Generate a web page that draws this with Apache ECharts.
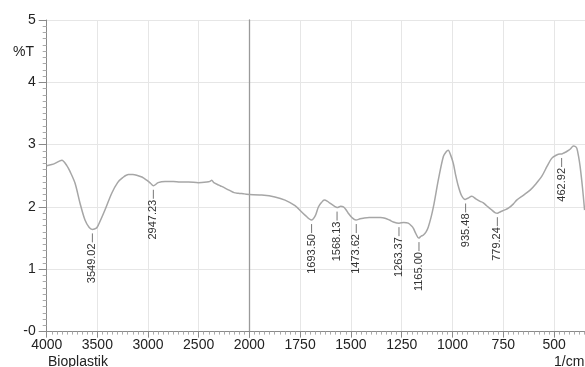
<!DOCTYPE html>
<html>
<head>
<meta charset="utf-8">
<script src="https://cdn.jsdelivr.net/npm/echarts@6/dist/echarts.min.js"></script>
<style>html,body{margin:0;padding:0;background:#fff;}#c{width:585px;height:367px;}</style>
</head>
<body>
<div id="c"></div>
<script>
// Spectrum (wavenumber 1/cm, %T)
const wavenumbers = [4000,3950,3918,3870,3850,3800,3770,3720,3671,3622,3580,3549,3510,3490,3425,3358,3300,3250,3194,3150,3112,3060,3013,2975,2947,2900,2832,2750,2684,2600,2503,2420,2388,2371,2350,2300,2273,2200,2150,2109,2050,2000,
1939,1874,1824,1775,1726,1694,1675,1660,1645,1631,1615,1603,1580,1568,1550,1537,1525,1513,1495,1475,1455,1439,1410,1381,1355,1332,1310,1291,1263,1240,1218,1200,1193,1180,1166,1155,1143,1130,1119,1105,1094,1080,1070,1045,1030,1021,1010,996,985,971,955,938,925,905,885,864,850,832,810,791,779,766,745,725,700,684,650,618,590,561,535,512,490,471,463,450,438,420,405,395,388,380,372,360,350];
const transmittance = [2.66,2.68,2.70,2.74,2.75,2.66,2.57,2.38,2.06,1.79,1.67,1.64,1.66,1.71,1.95,2.22,2.39,2.47,2.52,2.52,2.51,2.48,2.43,2.38,2.34,2.39,2.41,2.41,2.40,2.40,2.39,2.40,2.41,2.43,2.39,2.35,2.33,2.27,2.23,2.22,2.21,2.20,
2.19,2.16,2.11,2.02,1.87,1.79,1.86,2.00,2.07,2.11,2.09,2.06,2.01,1.99,2.01,2.00,1.96,1.90,1.83,1.79,1.81,1.82,1.83,1.83,1.83,1.82,1.79,1.76,1.74,1.75,1.74,1.69,1.66,1.57,1.50,1.53,1.55,1.60,1.68,1.84,2.00,2.25,2.43,2.81,2.89,2.91,2.84,2.70,2.52,2.33,2.18,2.12,2.14,2.17,2.13,2.09,2.07,2.02,1.96,1.91,1.90,1.92,1.95,1.98,2.05,2.11,2.19,2.27,2.37,2.49,2.65,2.78,2.83,2.85,2.85,2.87,2.89,2.93,2.98,2.97,2.94,2.82,2.65,2.30,1.95];

// Peak annotations
const peakWn = [3549.02,2947.23,1693.50,1568.13,1473.62,1263.37,1165.00,935.48,779.24,462.92];
const peakT = [1.64,2.34,1.79,1.99,1.79,1.74,1.50,2.12,1.90,2.85];
const peakLabels = ['3549.02','2947.23','1693.50','1568.13','1473.62','1263.37','1165.00','935.48','779.24','462.92'];

// Axis ticks
const yTicks = [0,1,2,3,4,5];
const yTickLabels = ['-0','1','2','3','4','5'];

const FONT = 'Liberation Sans, Arial, sans-serif';
const pts = wavenumbers.map((w,i)=>[w, transmittance[i]]);
const leftData = pts.filter(p=>p[0]>=2000);
const rightData = pts.filter(p=>p[0]<=2000);
const peaks = peakWn.map((w,i)=>({w, t:peakT[i], label:peakLabels[i]}));
const leftPeaks = peaks.filter(p=>p.w>2000);
const rightPeaks = peaks.filter(p=>p.w<=2000);

function peakRenderer(list){
  return function(params, api){
    const pk = list[params.dataIndex];
    const p = api.coord([pk.w, pk.t]);
    return {type:'group', children:[
      {type:'line', shape:{x1:p[0], y1:p[1]+4, x2:p[0], y2:p[1]+13}, style:{stroke:'#777', lineWidth:1}},
      {type:'text', x:p[0], y:p[1]+14, rotation:Math.PI/2,
       style:{text:pk.label, textAlign:'right', textVerticalAlign:'middle', align:'right', verticalAlign:'middle', font:'11px '+FONT, fill:'#333'}}
    ]};
  };
}

const lineColor = '#a6a6a6';
const gridColor = '#e6e6e6';
const axisColor = '#8a8a8a';

const chart = echarts.init(document.getElementById('c'), null, {renderer:'canvas'});
chart.setOption({
  animation:false,
  backgroundColor:'#fff',
  grid:[
    {left:46.7, top:20, width:202.6, height:311.6, containLabel:false, outerBoundsMode:'none'},
    {left:249.3, top:20, width:355.6, height:311.6, containLabel:false, outerBoundsMode:'none'}
  ],
  xAxis:[
    {gridIndex:0, type:'value', min:2000, max:4000, interval:500, inverse:true,
     axisLine:{show:true, onZero:false, lineStyle:{color:axisColor}},
     axisTick:{show:true, length:6, lineStyle:{color:axisColor}},
     minorTick:{show:true, splitNumber:10, length:3, lineStyle:{color:'#aaa'}},
     axisLabel:{margin:7, fontSize:14, fontFamily:FONT, color:'#222', formatter:v=> v===2000?'':String(v)},
     splitLine:{show:true, lineStyle:{color:gridColor, width:1}}},
    {gridIndex:1, type:'value', min:250, max:2000, interval:250, inverse:true,
     axisLine:{show:true, onZero:false, lineStyle:{color:axisColor}},
     axisTick:{show:true, length:6, lineStyle:{color:axisColor}},
     minorTick:{show:true, splitNumber:10, length:3, lineStyle:{color:'#aaa'}},
     axisLabel:{margin:7, fontSize:14, fontFamily:FONT, color:'#222', formatter:v=> v===250?'':String(v)},
     splitLine:{show:true, lineStyle:{color:gridColor, width:1}}}
  ],
  yAxis:[
    {gridIndex:0, type:'value', min:0, max:5, interval:1,
     axisLine:{show:true, lineStyle:{color:axisColor}},
     axisTick:{show:true, length:8, lineStyle:{color:axisColor}},
     minorTick:{show:true, splitNumber:10, length:4, lineStyle:{color:'#aaa'}},
     axisLabel:{margin:11, fontSize:14, fontFamily:FONT, color:'#222',
       formatter:v=>{const i=yTicks.indexOf(v); return i>=0?yTickLabels[i]:'';}},
     splitLine:{show:true, lineStyle:{color:gridColor, width:1}}},
    {gridIndex:1, type:'value', min:0, max:5, interval:1,
     axisLine:{show:true, lineStyle:{color:'#9a9a9a', width:1.3}},
     axisTick:{show:false}, axisLabel:{show:false},
     splitLine:{show:true, lineStyle:{color:gridColor, width:1}}}
  ],
  series:[
    {type:'line', xAxisIndex:0, yAxisIndex:0, data:leftData, showSymbol:false, smooth:0.3,
     lineStyle:{color:lineColor, width:1.5}, z:3},
    {type:'line', xAxisIndex:1, yAxisIndex:1, data:rightData, showSymbol:false, smooth:0.3,
     lineStyle:{color:lineColor, width:1.5}, z:3},
    {type:'custom', xAxisIndex:0, yAxisIndex:0, data:leftPeaks.map(p=>[p.w,p.t]), renderItem:peakRenderer(leftPeaks), z:4},
    {type:'custom', xAxisIndex:1, yAxisIndex:1, data:rightPeaks.map(p=>[p.w,p.t]), renderItem:peakRenderer(rightPeaks), z:4}
  ],
  graphic:[
    {type:'text', left:13, top:45, style:{text:'%T', font:'14px '+FONT, fill:'#222'}},
    {type:'text', left:48, top:355, style:{text:'Bioplastik', font:'14px '+FONT, fill:'#222'}},
    {type:'text', left:554, top:355, style:{text:'1/cm', font:'14px '+FONT, fill:'#222'}}
  ]
});
</script>
</body>
</html>
